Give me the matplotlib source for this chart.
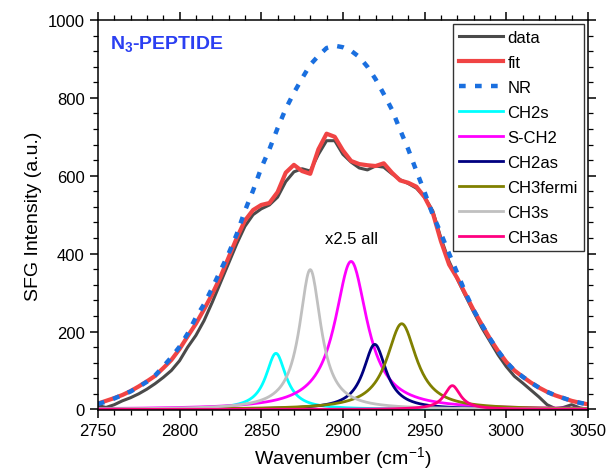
import numpy as np
import matplotlib
matplotlib.use("Agg")
import matplotlib.pyplot as plt

plt.rcParams['font.family'] = ['Liberation Sans', 'DejaVu Sans']
plt.rcParams['mathtext.fontset'] = 'custom'
plt.rcParams['mathtext.rm'] = 'Liberation Sans'
plt.rcParams['mathtext.bf'] = 'Liberation Sans:bold'

# ---- data (5 cm-1 grid) ----
wavenumber = list(range(2750, 3051, 5))

data_y = [10, 5, 12, 22, 30, 40, 52, 66, 82, 100,
          125, 160, 190, 228, 275, 325, 375, 425, 470, 500,
          515, 525, 545, 585, 610, 618, 612, 655, 690, 690,
          655, 635, 620, 615, 625, 622, 605, 590, 580, 568,
          545, 510, 440, 380, 335, 292, 250, 210, 175, 140,
          110, 85, 68, 50, 32, 12, 2, 5, 12, 4, 0]

fit_y = [15, 22, 29, 37, 47, 59, 72, 86, 106, 127,
         155, 188, 220, 257, 296, 340, 390, 440, 485, 512,
         525, 530, 558, 608, 628, 612, 605, 668, 708, 700,
         665, 638, 630, 627, 625, 632, 608, 588, 582, 572,
         545, 505, 432, 372, 337, 296, 255, 218, 182, 150,
         122, 100, 84, 69, 56, 45, 36, 29, 22, 17, 13]

nr_y = [14, 20, 28, 37, 46, 58, 71, 87, 110, 134,
        161, 195, 236, 270, 312, 356, 400, 450, 510, 562,
        620, 668, 722, 772, 813, 850, 885, 908, 928, 934,
        930, 921, 905, 880, 848, 810, 770, 718, 668, 612,
        558, 500, 452, 400, 350, 300, 255, 218, 182, 150,
        122, 100, 84, 69, 56, 45, 36, 29, 22, 17, 13]

# Lorentzian components (x2.5): name, centre, height, half width
comp_names = ['CH2s', 'S-CH2', 'CH2as', 'CH3fermi', 'CH3s', 'CH3as']
comp_centers = [2859, 2905, 2919.5, 2936, 2880, 2967]
comp_heights = [144, 380, 167, 220, 359, 61]
comp_widths = [7.5, 12, 8.5, 11, 8, 6]
comp_colors = ['#00ffff', '#ff00ff', '#000080', '#808000', '#c0c0c0', '#ff0080']

fig = plt.figure(figsize=(6.08, 4.77), dpi=100)
ax = fig.add_axes([0.161, 0.138, 0.806, 0.818])

ax.plot(wavenumber, data_y, color='#4a4a4a', lw=2.2, label='data')
ax.plot(wavenumber, fit_y, color='#f04444', lw=3.0, label='fit')
ax.plot(wavenumber, nr_y, color='#1a6fdf', lw=3.2, ls=(0, (1.5, 2.1)), label='NR')

xs = np.linspace(2750, 3050, 601)
for name, c, h, g, col in zip(comp_names, comp_centers, comp_heights, comp_widths, comp_colors):
    ax.plot(xs, h / (1 + ((xs - c) / g) ** 2), color=col, lw=2.0, label=name)

ax.set_xlim(2750, 3050)
ax.set_ylim(-2, 1000)
ax.set_xticks(range(2750, 3051, 50))
ax.set_xticks(range(2750, 3051, 10), minor=True)
ax.set_yticks(range(0, 1001, 200))
ax.set_yticks(range(0, 1001, 40), minor=True)
ax.tick_params(which='both', direction='out', top=True, right=True, labelsize=12)
ax.tick_params(which='major', length=6, width=1.1)
ax.tick_params(which='minor', length=3.5, width=0.9)
for s in ax.spines.values():
    s.set_linewidth(1.1)

ax.set_xlabel('Wavenumber (cm$^{-1}$)', fontsize=14)
ax.set_ylabel('SFG Intensity (a.u.)', fontsize=14)

ax.text(0.024, 0.94, r'N$_\mathbf{3}$-PEPTIDE', transform=ax.transAxes, color='#2b3ff2',
        fontsize=14, fontweight='bold', va='center', ha='left')
ax.text(2905, 438, 'x2.5 all', fontsize=12, ha='center', va='center')

leg = ax.legend(loc='upper right', fontsize=12, frameon=True, fancybox=False,
                handlelength=2.6, labelspacing=0.6, borderpad=0.35,
                handletextpad=0.3, borderaxespad=0.25)
leg.get_frame().set_edgecolor('black')
leg.get_frame().set_linewidth(1.0)

fig.savefig('out.png', dpi=100)
